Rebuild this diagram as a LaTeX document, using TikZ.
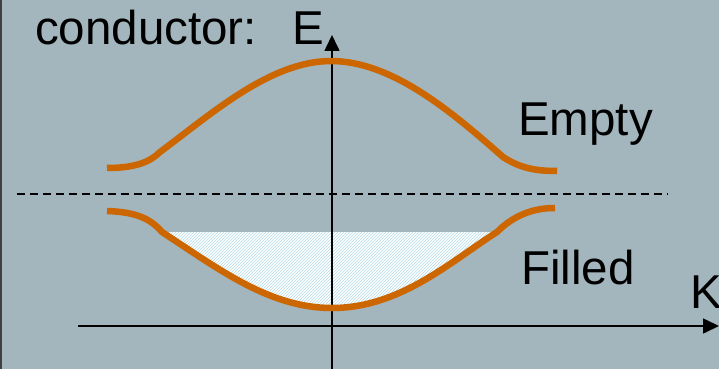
\documentclass[tikz,border=0pt]{standalone}
\usepackage{fontspec}
\setmainfont{Liberation Sans}
\usetikzlibrary{arrows.meta,patterns}
\definecolor{bg}{RGB}{163,181,189}
\definecolor{band}{RGB}{204,102,0}
\definecolor{hatch}{RGB}{180,218,226}
\tikzset{
  bandline/.style={draw=band,line width=6.5pt,line cap=butt},
  axis/.style={draw=black,line width=1.6pt,-{Triangle[length=16pt,width=15pt]}},
  lbl/.style={anchor=base west,inner sep=0pt,font=\fontsize{47.5}{47.5}\selectfont},
  fermi/.style={draw=black,line width=1.5pt,dash pattern=on 8pt off 5pt}
}
\begin{document}
\begin{tikzpicture}[x=1pt,y=-1pt]
\useasboundingbox (0,0) rectangle (719,369);
\fill[bg] (0,0) rectangle (719,369);
\fill[black!75] (0,0) rectangle (2,369);
% filled region
\fill[white] (162,232) .. controls (220,270) and (270,308) .. (332,308)
  .. controls (400,308) and (450,262) .. (497,232) -- cycle;
\fill[pattern=north east lines,pattern color=hatch] (162,232) .. controls (220,270) and (270,308) .. (332,308)
  .. controls (400,308) and (450,262) .. (497,232) -- cycle;
% fermi level
\coordinate (fl) at (17,194);
\coordinate (fr) at (668,194);
\draw[fermi] (fl) -- (fr);
% axes
\coordinate (eb) at (332,369);
\coordinate (et) at (332,35);
\coordinate (kl) at (78,326);
\coordinate (kr) at (719,326);
\draw[axis] (eb) -- (et);
\draw[axis] (kl) -- (kr);
% upper band
\draw[bandline] (107,168) .. controls (135,168) and (150,162) .. (160,152)
  .. controls (210,115) and (270,61) .. (331,61)
  .. controls (392,61) and (452,112) .. (503,157)
  .. controls (520,168) and (535,171) .. (557,171);
% lower band
\draw[bandline] (107,211) .. controls (135,212) and (150,218) .. (162,232)
  .. controls (220,270) and (270,308) .. (332,308)
  .. controls (400,308) and (450,262) .. (497,232)
  .. controls (515,214) and (535,208) .. (555,208);
% labels
\node[lbl] (cond) at (35,45) {conductor:};
\node[lbl] (elab) at (292,45) {E};
\node[lbl] (empty) at (518,135) {Empty};
\node[lbl] (filled) at (521,284) {Filled};
\node[lbl] (klab) at (690,308) {K};
\end{tikzpicture}
\end{document}
